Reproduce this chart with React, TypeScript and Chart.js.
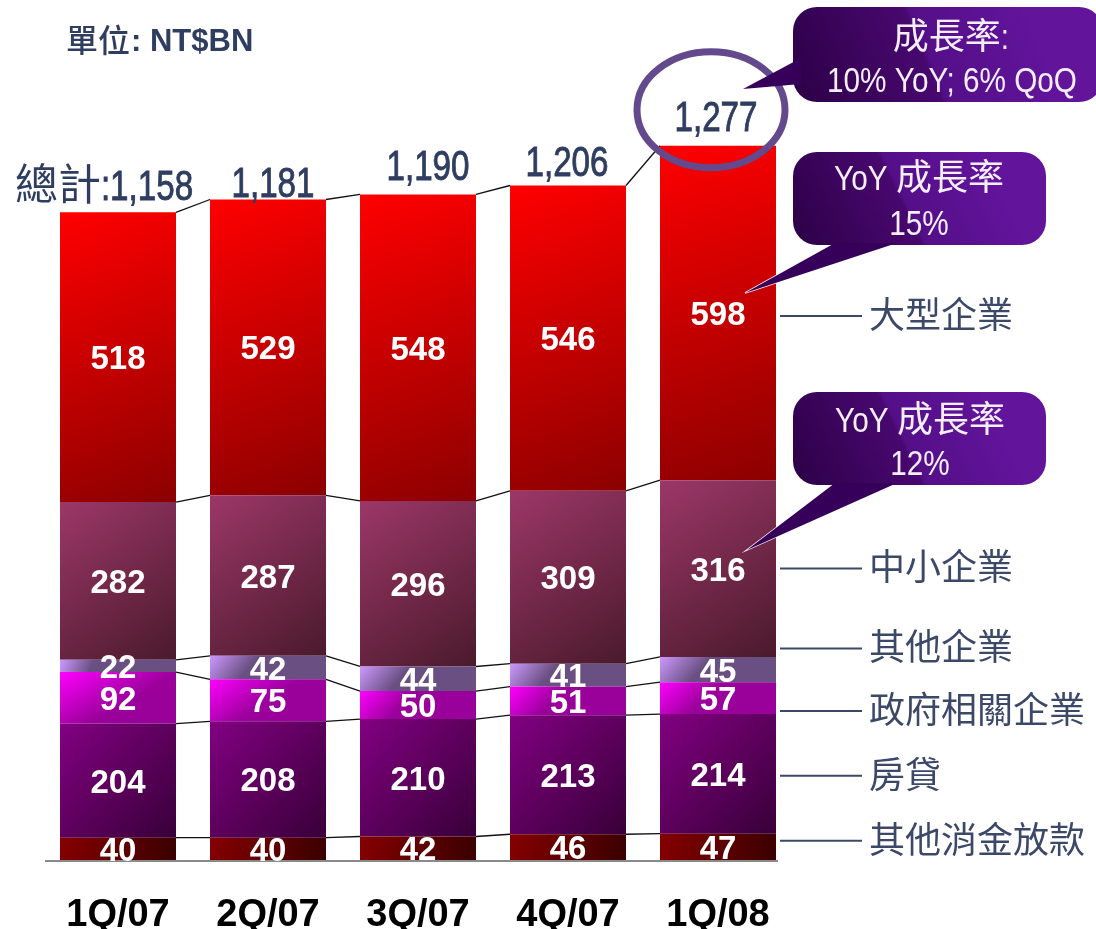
import React, { useEffect, useRef } from 'react';
import { Chart, registerables } from 'chart.js';

Chart.register(...registerables);

// ---------- data ----------
const categories = ['1Q/07', '2Q/07', '3Q/07', '4Q/07', '1Q/08'];
const otherConsumer = [40, 40, 42, 46, 47];
const mortgage = [204, 208, 210, 213, 214];
const govtRelated = [92, 75, 50, 51, 57];
const otherCorp = [22, 42, 44, 41, 45];
const sme = [282, 287, 296, 309, 316];
const largeCorp = [518, 529, 548, 546, 598];
const totals = [1158, 1181, 1190, 1206, 1277];
const seriesNames = ['其他消金放款', '房貸', '政府相關企業', '其他企業', '中小企業', '大型企業'];
const totalPrefix = '總計:';
const unitLabel = ['單位', ': NT$BN'];
const calloutTexts = [
  ['成長率:', '10% YoY; 6% QoQ'],
  ['YoY 成長率', '15%'],
  ['YoY 成長率', '12%'],
];

const seriesData = [otherConsumer, mortgage, govtRelated, otherCorp, sme, largeCorp];

// ---------- styles ----------
const FONT_LATIN = "'Liberation Sans', Arial, sans-serif";
const FONT_CJK = "'Noto Sans CJK TC', 'Noto Sans CJK SC', sans-serif";
const NAVY = '#2f3d60';
const LEGEND_COLOR = '#3b4868';

// gradient styles per series: [dir, c0, c1]
const segStyles: [string, string, string][] = [
  ['diag', '#860000', '#3a0000'],
  ['diag', '#820082', '#380038'],
  ['vert', '#ff00ff', '#9a009a'],
  ['vert', '#cc99ff', '#6a5082'],
  ['diag', '#9c3768', '#4a1a2c'],
  ['diag', '#ff0000', '#8c0000'],
];
const solidColors = ['#7f0000', '#800080', '#ff00ff', '#cc99ff', '#993366', '#ff0000'];

const BAR_PCT = 0.7733;

function barGeom(chart: any, d: number, i: number) {
  const xs = chart.scales.x;
  const ys = chart.scales.y;
  let base = 0;
  for (let k = 0; k < d; k++) base += seriesData[k][i];
  const top = base + seriesData[d][i];
  const xc = xs.getPixelForValue(i);
  const half = ((chart.chartArea.right - chart.chartArea.left) / categories.length) * BAR_PCT / 2;
  return { x0: xc - half, x1: xc + half, y0: ys.getPixelForValue(top), y1: ys.getPixelForValue(base), xc };
}

function segColor(c: any) {
  const chart = c.chart;
  const d = c.datasetIndex;
  if (!chart.chartArea || c.dataIndex === undefined || c.type !== 'data') return solidColors[d];
  const g = barGeom(chart, d, c.dataIndex);
  const [dir, c0, c1] = segStyles[d];
  const ctx = chart.ctx;
  const grad = dir === 'diag'
    ? ctx.createLinearGradient(g.x0, g.y0, g.x1, g.y1)
    : ctx.createLinearGradient(g.x0, g.y0, g.x0 + (g.x1 - g.x0) * 0.25, g.y1);
  grad.addColorStop(0, c0);
  grad.addColorStop(1, c1);
  return grad;
}

// ---------- mixed text helper ----------
function isCJK(ch: string) {
  return /[\u2E80-\u9FFF\uF900-\uFAFF\u3000-\u303F]/.test(ch);
}
function splitRuns(text: string) {
  const runs: { t: string; cjk: boolean }[] = [];
  for (const ch of text) {
    const c = isCJK(ch);
    if (runs.length && runs[runs.length - 1].cjk === c) runs[runs.length - 1].t += ch;
    else runs.push({ t: ch, cjk: c });
  }
  return runs;
}
function drawMixed(ctx: CanvasRenderingContext2D, text: string, x: number, y: number, o: any) {
  const runs = splitRuns(text);
  const scale = o.latinScale ?? 1;
  const weight = o.weight ?? 'normal';
  const fontOf = (r: any) => r.cjk ? `${o.cjkWeight ?? 'normal'} ${o.cjkSize ?? o.size}px ${FONT_CJK}` : `${weight} ${o.size}px ${FONT_LATIN}`;
  const widths = runs.map((r) => {
    ctx.font = fontOf(r);
    const w = ctx.measureText(r.t).width;
    return r.cjk ? w : w * scale;
  });
  const total = widths.reduce((a, b) => a + b, 0);
  let cx = o.align === 'center' ? x - total / 2 : o.align === 'right' ? x - total : x;
  ctx.fillStyle = o.color;
  ctx.strokeStyle = o.color;
  ctx.lineWidth = o.stroke ?? 0;
  ctx.textAlign = 'left';
  ctx.textBaseline = 'alphabetic';
  runs.forEach((r, i) => {
    ctx.font = fontOf(r);
    if (r.cjk) {
      ctx.fillText(r.t, cx, y);
    } else {
      ctx.save();
      ctx.translate(cx, y);
      ctx.scale(scale, 1);
      ctx.fillText(r.t, 0, 0);
      if (o.stroke) ctx.strokeText(r.t, 0, 0);
      ctx.restore();
    }
    cx += widths[i];
  });
}

// ---------- overlay plugin ----------
const overlayPlugin = {
  id: 'overlay',
  beforeDatasetsDraw(chart: any) {
    const ctx: CanvasRenderingContext2D = chart.ctx;
    const ys = chart.scales.y;
    const n = categories.length;
    // connector lines between bars
    ctx.save();
    ctx.strokeStyle = '#111';
    ctx.lineWidth = 1.3;
    const cum: number[][] = [];
    for (let d = 0; d < seriesData.length; d++) {
      cum.push(categories.map((_, i) => {
        let s = 0;
        for (let k = 0; k <= d; k++) s += seriesData[k][i];
        return s;
      }));
    }
    for (let i = 0; i < n - 1; i++) {
      const a = barGeom(chart, 0, i);
      const b = barGeom(chart, 0, i + 1);
      for (let d = 0; d < cum.length; d++) {
        ctx.beginPath();
        ctx.moveTo(a.x1, ys.getPixelForValue(cum[d][i]));
        ctx.lineTo(b.x0, ys.getPixelForValue(cum[d][i + 1]));
        ctx.stroke();
      }
    }
    ctx.restore();
  },
  afterDatasetsDraw(chart: any) {
    const ctx: CanvasRenderingContext2D = chart.ctx;
    const ys = chart.scales.y;
    const xs = chart.scales.x;
    const n = categories.length;
    ctx.save();

    // baseline axis
    const yb = ys.getPixelForValue(0);
    ctx.strokeStyle = '#8a8a8a';
    ctx.lineWidth = 2;
    ctx.beginPath();
    ctx.moveTo(45, yb + 1);
    ctx.lineTo(778, yb + 1);
    ctx.stroke();

    // segment value labels
    ctx.fillStyle = '#ffffff';
    ctx.font = `bold 33px ${FONT_LATIN}`;
    ctx.textAlign = 'center';
    ctx.textBaseline = 'alphabetic';
    for (let d = 0; d < seriesData.length; d++) {
      for (let i = 0; i < n; i++) {
        const g = barGeom(chart, d, i);
        const cy = (g.y0 + g.y1) / 2;
        ctx.fillText(String(seriesData[d][i]), g.xc, cy + 12);
      }
    }

    // x category labels
    ctx.fillStyle = '#000000';
    ctx.font = `bold 38px ${FONT_LATIN}`;
    categories.forEach((c, i) => ctx.fillText(c, xs.getPixelForValue(i), 926));

    // totals
    const totOffsets = [12, 2, 14, 10, 15];
    const totDx = [-14, 5, 10, -1, -2];
    totals.forEach((t, i) => {
      const g = barGeom(chart, seriesData.length - 1, i);
      const txt = (i === 0 ? totalPrefix : '') + t.toLocaleString('en-US');
      drawMixed(ctx, txt, g.xc + totDx[i], g.y0 - totOffsets[i], {
        size: 42, cjkSize: 43, latinScale: 0.79, color: NAVY, align: 'center', stroke: 0.9,
      });
    });

    // ellipse around last total
    const gl = barGeom(chart, seriesData.length - 1, n - 1);
    ctx.strokeStyle = '#644a8d';
    ctx.lineWidth = 7;
    ctx.beginPath();
    ctx.ellipse(gl.xc - 7, gl.y0 - 36, 74, 58, 0, 0, Math.PI * 2);
    ctx.stroke();

    // legend labels on right (aligned near last bar segment centres)
    const legAdj = [-6, 2, 13, -21, 0, 3];
    seriesNames.forEach((name, d) => {
      const g = barGeom(chart, d, n - 1);
      const y = (g.y0 + g.y1) / 2 + legAdj[d];
      ctx.strokeStyle = LEGEND_COLOR;
      ctx.lineWidth = 2;
      ctx.beginPath();
      ctx.moveTo(780, y);
      ctx.lineTo(862, y);
      ctx.stroke();
      ctx.fillStyle = LEGEND_COLOR;
      ctx.font = `normal 36px ${FONT_CJK}`;
      ctx.textAlign = 'left';
      ctx.textBaseline = 'middle';
      ctx.fillText(name, 869, y - 2);
    });

    // unit label
    ctx.textBaseline = 'alphabetic';
    ctx.textAlign = 'left';
    ctx.fillStyle = NAVY;
    ctx.font = `500 32px ${FONT_CJK}`;
    ctx.fillText(unitLabel[0], 66, 52);
    const w0 = ctx.measureText(unitLabel[0]).width;
    ctx.font = `bold 31px ${FONT_LATIN}`;
    ctx.fillText(unitLabel[1], 66 + w0 + 1, 51);

    // callouts
    const callouts = [
      { box: [793, 7, 310, 95], tail: [[801, 58], [743, 89], [801, 84]], lines: [[951, 49], [952, 92]] },
      { box: [793, 152, 253, 93], tail: [[835, 243], [745, 293], [897, 243]], lines: [[919, 190], [919, 235]] },
      { box: [793, 392, 253, 93], tail: [[835, 483], [747, 550], [897, 483]], lines: [[920, 432], [920, 475]] },
    ];
    callouts.forEach((c, k) => {
      const [bx, by, bw, bh] = c.box;
      const grad = ctx.createLinearGradient(bx, by + bh, bx + bw * 0.75, by);
      grad.addColorStop(0, '#2c0046');
      grad.addColorStop(0.55, '#48086f');
      grad.addColorStop(0.57, '#540f88');
      grad.addColorStop(1, '#62149b');
      // tail outline
      if (k > 0) {
        ctx.strokeStyle = 'rgba(255,255,255,0.9)';
        ctx.lineWidth = 1.5;
        ctx.beginPath();
        ctx.moveTo(c.tail[0][0], c.tail[0][1]);
        ctx.lineTo(c.tail[1][0], c.tail[1][1]);
        ctx.lineTo(c.tail[2][0], c.tail[2][1]);
        ctx.stroke();
      }
      // box
      ctx.beginPath();
      (ctx as any).roundRect(bx, by, bw, bh, 24);
      ctx.fillStyle = grad;
      ctx.fill();
      // tail
      ctx.beginPath();
      ctx.moveTo(c.tail[0][0], c.tail[0][1]);
      ctx.lineTo(c.tail[1][0], c.tail[1][1]);
      ctx.lineTo(c.tail[2][0], c.tail[2][1]);
      ctx.closePath();
      ctx.fillStyle = '#36005a';
      ctx.fill();
      calloutTexts[k].forEach((line, j) => {
        drawMixed(ctx, line, c.lines[j][0], c.lines[j][1], {
          size: 35, cjkSize: 36, latinScale: 0.85, color: '#f4eefb', align: 'center',
        });
      });
    });

    ctx.restore();
  },
};

export default function App() {
  const ref = useRef<HTMLCanvasElement | null>(null);
  useEffect(() => {
    if (!ref.current) return;
    const chart = new Chart(ref.current, {
      type: 'bar',
      data: {
        labels: categories,
        datasets: seriesData.map((data, d) => ({
          label: seriesNames[d],
          data,
          backgroundColor: segColor,
          borderWidth: 0,
          barPercentage: BAR_PCT,
          categoryPercentage: 1,
        })),
      },
      options: {
        responsive: false,
        maintainAspectRatio: false,
        animation: false,
        layout: { padding: { left: 43, right: 303, top: 77, bottom: 69 } },
        scales: {
          x: { stacked: true, display: false },
          y: { stacked: true, display: false, min: 0, max: 1400 },
        },
        plugins: {
          legend: { display: false },
          tooltip: { enabled: false },
        },
      },
      plugins: [overlayPlugin],
    });
    return () => chart.destroy();
  }, []);
  return (
    <div style={{ position: 'absolute', left: 0, top: 0, width: 1096, height: 929, background: '#fff' }}>
      <canvas ref={ref} width={1096} height={929} style={{ display: 'block' }} />
    </div>
  );
}
